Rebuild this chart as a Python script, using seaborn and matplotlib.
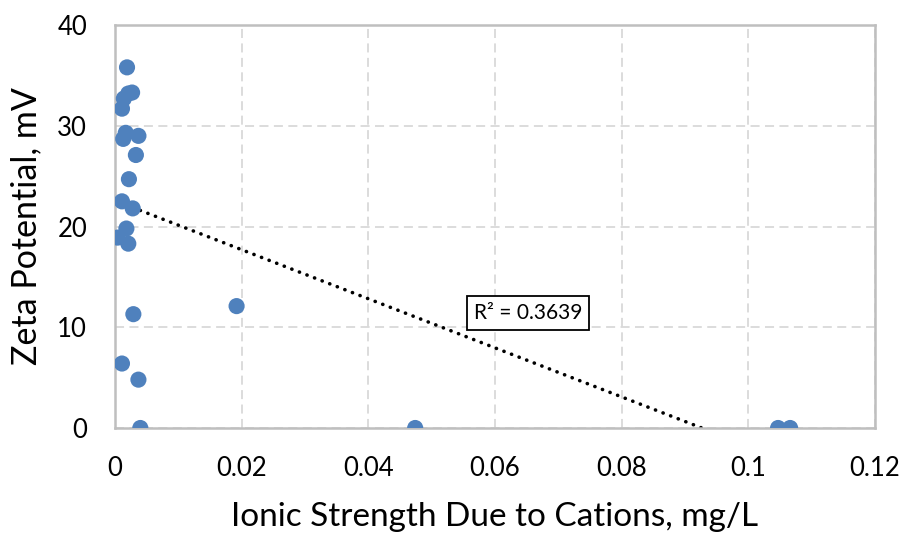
import matplotlib
matplotlib.use("Agg")
import matplotlib.pyplot as plt
import seaborn as sns
import numpy as np
import pandas as pd

# Ionic strength due to cations (mg/L) and measured zeta potential (mV)
ionic_strength = [0.0019, 0.0014, 0.0021, 0.0027, 0.0011, 0.0013, 0.0017,
                  0.0037, 0.0033, 0.0022, 0.0011, 0.0028, 0.0018, 0.0004,
                  0.0021, 0.0029, 0.0011, 0.0037, 0.0040, 0.0192, 0.0474,
                  0.1047, 0.1066]
zeta_potential = [35.8, 32.7, 33.2, 33.3, 31.7, 28.7, 29.3,
                  29.0, 27.1, 24.7, 22.5, 21.8, 19.8, 18.9,
                  18.3, 11.3, 6.4, 4.8, 0.0, 12.1, 0.0,
                  0.0, 0.0]
r_squared = 0.3639

x_ticks = [0, 0.02, 0.04, 0.06, 0.08, 0.1, 0.12]
x_tick_labels = ["0", "0.02", "0.04", "0.06", "0.08", "0.1", "0.12"]
y_ticks = [0, 10, 20, 30, 40]

df = pd.DataFrame({"ionic": ionic_strength, "zeta": zeta_potential})

sns.set_style("white")
plt.rcParams["font.family"] = ["Lato", "DejaVu Sans"]

fig = plt.figure(figsize=(9.04, 5.33), dpi=100)
ax = fig.add_axes([0.1272, 0.197, 0.8407, 0.756])

# linear trendline (round dots) across the data range
sns.regplot(data=df, x="ionic", y="zeta", ax=ax, scatter=False, ci=None,
            truncate=True,
            line_kws=dict(color="black", lw=2.6, ls=(0, (0.05, 2.2)),
                          dash_capstyle="round", zorder=2))

sns.scatterplot(data=df, x="ionic", y="zeta", ax=ax, s=135,
                color="#4F81BD", edgecolor="none", linewidth=0, zorder=3)

ax.set_xlim(0, 0.12)
ax.set_ylim(0, 40)
ax.set_xticks(x_ticks)
ax.set_xticklabels(x_tick_labels)
ax.set_yticks(y_ticks)
ax.tick_params(axis="both", length=0, labelsize=18.5, colors="black", pad=20)

ax.grid(True, color="#d9d9d9", lw=1.3, ls=(0, (5, 3)), zorder=0)
ax.set_axisbelow(True)
for sp in ax.spines.values():
    sp.set_visible(True)
    sp.set_color("#bfbfbf")
    sp.set_linewidth(1.8)

ax.set_xlabel("Ionic Strength Due to Cations, mg/L", fontsize=24,
              color="black", labelpad=15)
ax.set_ylabel("Zeta Potential, mV", fontsize=24.5, color="black", labelpad=11)

ax.text(0.0652, 11.4, f"R² = {r_squared:.4f}", fontsize=15, ha="center",
        va="center", color="black", zorder=5,
        bbox=dict(boxstyle="square,pad=0.33", fc="white", ec="black", lw=1.3))

fig.savefig("out.png", dpi=100)
